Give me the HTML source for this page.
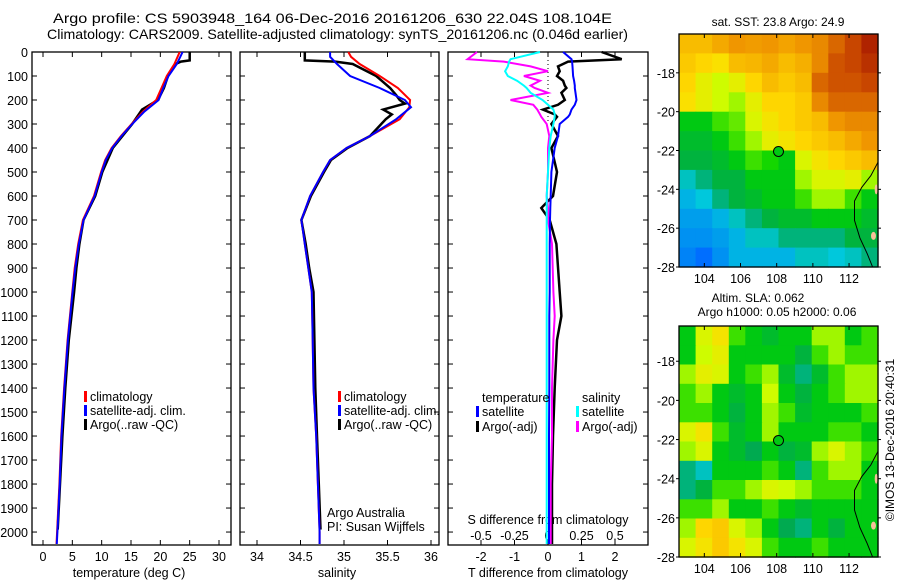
<!DOCTYPE html>
<html><head><meta charset="utf-8">
<style>
body{margin:0;background:#fff;}
svg{display:block;font-family:"Liberation Sans",sans-serif;}
</style></head>
<body>
<svg id="fig" width="900" height="580" viewBox="0 0 900 580"></svg>
<script>
// ---------------- data ----------------
const depthT = [0,50,100,150,200,250,300,350,400,450,500,600,700,800,900,1000,1200,1400,1600,1800,2000,2050];
const tempClim = [23.3,22.4,21.1,20.2,19.3,17.0,15.1,13.3,11.7,10.6,9.9,8.7,6.8,6.0,5.4,5.0,4.2,3.6,3.1,2.8,2.4,2.3];
const tempSat  = [23.8,22.8,21.4,20.5,19.7,17.2,15.2,13.4,11.8,10.7,10.0,8.8,6.9,6.1,5.5,5.05,4.25,3.65,3.15,2.85,2.45,2.35];
const depthArgoT = [0,35,40,50,100,150,200,240,300,400,500,600,700,800,900,1000,1200,1400,1600,1800,1990];
const tempArgo = [25.0,25.0,23.5,22.6,21.3,20.6,19.6,16.9,15.2,11.9,10.1,8.9,6.9,6.2,5.7,5.3,4.4,3.8,3.3,2.9,2.5];

const depthS = [0,20,50,100,150,200,230,280,350,400,450,500,600,700,800,900,1000,1200,1400,1600,1800,2000,2050];
const salClim = [35.05,35.08,35.18,35.41,35.62,35.76,35.75,35.64,35.3,35.03,34.84,34.76,34.61,34.51,34.55,34.59,34.63,34.64,34.65,34.68,34.70,34.72,34.72];
const salSat  = [34.84,34.84,34.92,35.07,35.41,35.70,35.77,35.60,35.3,35.03,34.84,34.76,34.61,34.51,34.55,34.59,34.63,34.64,34.65,34.68,34.70,34.72,34.72];
const depthArgoS = [0,35,40,50,100,150,180,200,215,240,260,280,350,400,450,500,600,700,800,900,1000,1200,1400,1600,1800,1990];
const salArgo = [34.55,34.55,34.9,35.1,35.37,35.53,35.6,35.64,35.7,35.45,35.55,35.48,35.3,35.04,34.85,34.77,34.62,34.51,34.56,34.6,34.65,34.66,34.67,34.69,34.71,34.73];

const depthD = [0,30,40,60,80,100,120,140,150,170,200,220,240,260,270,300,350,400,500,600,650,700,800,1000,1100,1200,1400,1600,1800,2000,2050];
const tDiffArgo = [1.6,2.2,0.6,0.3,0.35,0.27,0.45,0.5,0.55,0.4,0.5,0.3,-0.15,0.2,0.27,0.1,0.3,0.1,0.27,0.15,-0.2,0.05,0.25,0.35,0.4,0.27,0.2,0.15,0.12,0.12,0.12];
const tDiffSat  = [0.45,0.7,0.72,0.73,0.74,0.75,0.78,0.8,0.8,0.82,0.85,0.8,0.7,0.65,0.6,0.35,0.3,0.2,0.1,0.08,0.07,0.06,0.05,0.05,0.04,0.04,0.04,0.03,0.03,0.03,0.03];
const sDiffSat  = [-0.06,-0.28,-0.29,-0.3,-0.32,-0.3,-0.23,-0.18,-0.16,-0.13,-0.04,0.0,0.04,0.05,0.05,0.04,0.02,0.01,0.0,-0.01,-0.01,-0.01,-0.01,-0.01,-0.01,-0.01,-0.01,-0.01,-0.01,-0.01,-0.01];
const sDiffArgo = [-0.53,-0.6,-0.33,-0.13,0.0,-0.18,-0.06,-0.13,-0.1,0.0,-0.28,-0.11,-0.08,-0.06,-0.05,-0.01,0.01,0.0,0.0,-0.01,0.0,0.0,0.03,0.04,0.05,0.04,0.03,0.03,0.02,0.02,0.02];

const depthTicks = [0,100,200,300,400,500,600,700,800,900,1000,1100,1200,1300,1400,1500,1600,1700,1800,1900,2000];
const tempTicks = [0,5,10,15,20,25,30];
const salTicks = [34,34.5,35,35.5,36];
const tDiffTicks = [-2,-1,0,1,2];
const sDiffTicks = ["-0.5","-0.25","0","0.25","0.5"];
const lonTicks = [104,106,108,110,112];
const latTicks = [-18,-20,-22,-24,-26,-28];

const sstGrid = [
[0.72,0.72,0.75,0.78,0.77,0.78,0.76,0.78,0.80,0.85,0.90,0.95],
[0.70,0.68,0.66,0.72,0.73,0.75,0.72,0.74,0.80,0.88,0.90,0.93],
[0.68,0.62,0.58,0.62,0.68,0.72,0.70,0.72,0.85,0.88,0.88,0.90],
[0.66,0.62,0.58,0.55,0.62,0.68,0.68,0.70,0.80,0.85,0.85,0.85],
[0.45,0.45,0.50,0.52,0.60,0.65,0.68,0.70,0.72,0.78,0.80,0.80],
[0.42,0.42,0.45,0.50,0.55,0.62,0.65,0.68,0.70,0.72,0.75,0.78],
[0.40,0.40,0.42,0.45,0.50,0.48,0.45,0.60,0.65,0.68,0.70,0.72],
[0.30,0.35,0.40,0.40,0.45,0.45,0.45,0.55,0.60,0.60,0.62,0.55],
[0.25,0.28,0.35,0.40,0.42,0.45,0.45,0.50,0.55,0.55,0.50,0.45],
[0.22,0.22,0.25,0.30,0.35,0.40,0.42,0.42,0.45,0.45,0.45,0.42],
[0.20,0.20,0.22,0.25,0.30,0.30,0.35,0.35,0.35,0.35,0.40,0.40],
[0.18,0.15,0.20,0.25,0.25,0.25,0.25,0.30,0.30,0.28,0.30,0.35]];
const slaGrid = [
[0.45,0.60,0.65,0.50,0.45,0.42,0.45,0.45,0.55,0.55,0.45,0.50],
[0.45,0.58,0.62,0.45,0.45,0.45,0.45,0.40,0.50,0.55,0.50,0.50],
[0.55,0.62,0.60,0.45,0.50,0.55,0.42,0.35,0.42,0.50,0.55,0.55],
[0.50,0.55,0.45,0.42,0.45,0.58,0.45,0.40,0.45,0.50,0.55,0.55],
[0.50,0.50,0.45,0.40,0.45,0.55,0.50,0.42,0.45,0.45,0.45,0.50],
[0.60,0.65,0.50,0.42,0.45,0.55,0.45,0.45,0.45,0.50,0.50,0.45],
[0.55,0.60,0.45,0.42,0.38,0.45,0.40,0.42,0.55,0.60,0.55,0.50],
[0.35,0.30,0.45,0.45,0.45,0.50,0.45,0.35,0.50,0.55,0.55,0.45],
[0.35,0.40,0.50,0.50,0.55,0.60,0.58,0.55,0.50,0.50,0.50,0.45],
[0.50,0.50,0.55,0.45,0.45,0.50,0.45,0.42,0.45,0.45,0.45,0.45],
[0.55,0.68,0.70,0.60,0.55,0.45,0.38,0.35,0.45,0.40,0.45,0.45],
[0.60,0.65,0.70,0.65,0.60,0.50,0.45,0.45,0.50,0.45,0.45,0.45]];
const argoLon = 108.1, argoLat = -22.05;
const coastLon = [113.6,113.2,112.7,112.3,112.3,112.6,113.0,113.3];
const coastLat = [-22.6,-23.3,-23.9,-24.6,-25.6,-26.5,-27.3,-28.0];

// ---------------- helpers ----------------
const NS = "http://www.w3.org/2000/svg";
const svg = document.getElementById('fig');
function mk(tag, attrs, parent, text){
  const e = document.createElementNS(NS, tag);
  for (const k in attrs) e.setAttribute(k, attrs[k]);
  if (text !== undefined) e.textContent = text;
  (parent || svg).appendChild(e);
  return e;
}
const PT = 52, PB = 545, DMAX = 2054;
const yD = d => PT + d * (PB - PT) / DMAX;
function xLin(v0, px0, v1, px1){ return v => px0 + (v - v0) * (px1 - px0) / (v1 - v0); }

function frame(x0, x1, name){
  const r = mk('rect', {x:x0, y:PT, width:x1-x0, height:PB-PT, fill:'none', stroke:'#000', 'stroke-width':1.3});
  
  
  depthTicks.forEach(d => {
    mk('line', {x1:x0, x2:x0+5, y1:yD(d), y2:yD(d), stroke:'#000'});
    mk('line', {x1:x1-5, x2:x1, y1:yD(d), y2:yD(d), stroke:'#000'});
  });
}
function line(xs, ds, fx, color, w, name){
  const pts = xs.map((v,i) => fx(v).toFixed(1) + ',' + yD(ds[i]).toFixed(1)).join(' ');
  const p = mk('polyline', {points:pts, fill:'none', stroke:color, 'stroke-width':w});
  
  
}
function txt(x, y, s, opts, name){
  const t = mk('text', Object.assign({x:x, y:y, 'font-size':12.5, fill:'#000'}, opts||{}), svg, s);
  
  
  return t;
}
function legendItem(x, y, color, label, name){
  mk('rect', {x:x-6, y:y-10, width:3, height:11, fill:color});
  txt(x, y, label, {}, name);
}

// ---------------- titles ----------------
txt(53, 23, "Argo profile: CS 5903948_164 06-Dec-2016 20161206_630 22.04S 108.104E", {'font-size':14,'textLength':559,'lengthAdjust':'spacingAndGlyphs'}, 'title-line-1');
txt(47, 39, "Climatology: CARS2009. Satellite-adjusted climatology: synTS_20161206.nc (0.046d earlier)", {'font-size':14,'textLength':581,'lengthAdjust':'spacingAndGlyphs'}, 'title-line-2');

depthTicks.forEach(d => {
  txt(28, yD(d)+5, String(d), {'text-anchor':'end'}, 'depth-tick-label');
});

// ---------------- panel 1: temperature ----------------
const xT = xLin(0, 43, 30, 219);
frame(32, 231, 'temperature-panel');
tempTicks.forEach(v => {
  mk('line', {x1:xT(v), x2:xT(v), y1:PT, y2:PT+5, stroke:'#000'});
  mk('line', {x1:xT(v), x2:xT(v), y1:PB-5, y2:PB, stroke:'#000'});
  txt(xT(v), 561, String(v), {'text-anchor':'middle'}, 'temperature-tick-label');
});
txt(129, 577, "temperature (deg C)", {'text-anchor':'middle'}, 'temperature-axis-title');
line(tempArgo, depthArgoT, xT, '#000', 2.5, 'temperature-argo-line');
line(tempClim, depthT, xT, '#f00', 2, 'temperature-climatology-line');
line(tempSat, depthT, xT, '#00f', 2, 'temperature-satellite-line');
legendItem(90, 401, '#f00', 'climatology', 'legend-climatology');
legendItem(90, 415, '#00f', 'satellite-adj. clim.', 'legend-satellite-adj');
legendItem(90, 429, '#000', 'Argo(..raw -QC)', 'legend-argo-raw');

// ---------------- panel 2: salinity ----------------
const xS = xLin(34, 257, 36, 431);
frame(240, 439, 'salinity-panel');
salTicks.forEach(v => {
  mk('line', {x1:xS(v), x2:xS(v), y1:PT, y2:PT+5, stroke:'#000'});
  mk('line', {x1:xS(v), x2:xS(v), y1:PB-5, y2:PB, stroke:'#000'});
  txt(xS(v), 561, String(v), {'text-anchor':'middle'}, 'salinity-tick-label');
});
txt(337, 577, "salinity", {'text-anchor':'middle'}, 'salinity-axis-title');
line(salArgo, depthArgoS, xS, '#000', 2.5, 'salinity-argo-line');
line(salClim, depthS, xS, '#f00', 2, 'salinity-climatology-line');
line(salSat, depthS, xS, '#00f', 2, 'salinity-satellite-line');
legendItem(344, 401, '#f00', 'climatology', 'legend-climatology-2');
legendItem(344, 415, '#00f', 'satellite-adj. clim.', 'legend-satellite-adj-2');
legendItem(344, 429, '#000', 'Argo(..raw -QC)', 'legend-argo-raw-2');
txt(327, 517, "Argo Australia", {}, 'argo-australia-label');
txt(327, 531, "PI: Susan Wijffels", {}, 'pi-label');

// ---------------- panel 3: differences ----------------
const xTd = xLin(0, 548, 2, 615);
const xSd = xLin(0, 548, 0.5, 615);
frame(448, 648, 'difference-panel');
mk('line', {x1:548, x2:548, y1:PT, y2:yD(300), stroke:'#000', 'stroke-dasharray':'1,3'});
tDiffTicks.forEach(v => {
  mk('line', {x1:xTd(v), x2:xTd(v), y1:PT, y2:PT+5, stroke:'#000'});
  mk('line', {x1:xTd(v), x2:xTd(v), y1:PB-5, y2:PB, stroke:'#000'});
  txt(xTd(v), 561, String(v), {'text-anchor':'middle'}, 'tdiff-tick-label');
});
sDiffTicks.forEach(v => {
  txt(xSd(parseFloat(v)), 540, v, {'text-anchor':'middle'}, 'sdiff-tick-label');
});
txt(548, 524, "S difference from climatology", {'text-anchor':'middle'}, 'sdiff-axis-title');
txt(548, 577, "T difference from climatology", {'text-anchor':'middle'}, 'tdiff-axis-title');
line(tDiffArgo, depthD, xTd, '#000', 2.5, 'tdiff-argo-line');
line(sDiffArgo, depthD, xSd, '#f0f', 2, 'sdiff-argo-line');
line(tDiffSat, depthD, xTd, '#00f', 2, 'tdiff-satellite-line');
line(sDiffSat, depthD, xSd, '#0ff', 2, 'sdiff-satellite-line');
txt(482, 402, "temperature", {}, 'legend-temperature-heading');
legendItem(482, 416, '#00f', 'satellite', 'legend-t-satellite');
legendItem(482, 431, '#000', 'Argo(-adj)', 'legend-t-argo');
txt(582, 402, "salinity", {}, 'legend-salinity-heading');
legendItem(582, 416, '#0ff', 'satellite', 'legend-s-satellite');
legendItem(582, 431, '#f0f', 'Argo(-adj)', 'legend-s-argo');

// ---------------- maps ----------------
function cmap(v){
  const stops = [[0.0,[0,0,200]],[0.15,[0,110,255]],[0.28,[0,200,220]],[0.38,[0,170,80]],[0.47,[0,210,0]],[0.57,[200,255,0]],[0.67,[255,220,0]],[0.78,[240,150,0]],[0.9,[200,70,0]],[1.0,[150,0,0]]];
  for (let i=1;i<stops.length;i++){
    if (v <= stops[i][0]){
      const a=stops[i-1], b=stops[i], f=(v-a[0])/(b[0]-a[0]);
      const c=a[1].map((x,k)=>Math.round(x+(b[1][k]-x)*f));
      return 'rgb('+c.join(',')+')';
    }
  }
  return 'rgb(150,0,0)';
}
function drawMap(grid, x0, x1, y0, y1, latTop, latBot, name){
  const fx = xLin(102.6, x0, 113.6, x1);
  const fy = xLin(latTop, y0, latBot, y1);
  const g = mk('g', {});
  
  
  const rows = grid.length, cols = grid[0].length;
  const cw = (x1-x0)/cols, ch = (y1-y0)/rows;
  grid.forEach((row, r) => row.forEach((v, c) => {
    const cell = mk('rect', {x:(x0+c*cw).toFixed(1), y:(y0+r*ch).toFixed(1), width:(cw+0.6).toFixed(1), height:(ch+0.6).toFixed(1), fill:cmap(v)}, g);
    
    
  }));
  const pts = coastLon.map((lo,i)=>fx(lo).toFixed(1)+','+fy(coastLat[i]).toFixed(1)).join(' ');
  mk('polyline', {points:pts, fill:'none', stroke:'#000', 'stroke-width':1}, g);
  mk('ellipse', {cx:fx(113.5), cy:fy(-24.0), rx:1.5, ry:5, fill:'#f5c09a'}, g);
  mk('ellipse', {cx:fx(113.35), cy:fy(-26.4), rx:2.5, ry:4, fill:'#f5c09a'}, g);
  const dot = mk('circle', {cx:fx(argoLon), cy:fy(argoLat), r:5, fill:cmap(grid[Math.floor((latTop-argoLat)/(latTop-latBot)*rows)][Math.floor((argoLon-102.6)/11*cols)]), stroke:'#000', 'stroke-width':1});
  
  
  mk('rect', {x:x0, y:y0, width:x1-x0, height:y1-y0, fill:'none', stroke:'#000', 'stroke-width':1.3});
  lonTicks.forEach(v => {
    mk('line', {x1:fx(v), x2:fx(v), y1:y0, y2:y0+4, stroke:'#000'});
    mk('line', {x1:fx(v), x2:fx(v), y1:y1-4, y2:y1, stroke:'#000'});
    txt(fx(v), y1+16, String(v), {'text-anchor':'middle'}, name + '-lon-label');
  });
  latTicks.forEach(v => {
    mk('line', {x1:x0-3, x2:x0, y1:fy(v), y2:fy(v), stroke:'#000'});
    mk('line', {x1:x1, x2:x1+3, y1:fy(v), y2:fy(v), stroke:'#000'});
    txt(x0-4, fy(v)+5, String(v), {'text-anchor':'end'}, name + '-lat-label');
  });
}
drawMap(sstGrid, 679, 878, 34, 267, -16.0, -28.0, 'sst-map');
txt(778, 26, "sat. SST: 23.8 Argo: 24.9", {'text-anchor':'middle','font-size':12}, 'sst-map-title');
drawMap(slaGrid, 679, 878, 326, 557, -16.2, -28.0, 'sla-map');
txt(758, 302, "Altim. SLA: 0.062", {'text-anchor':'middle','font-size':12}, 'sla-map-title');
txt(777, 316, "Argo h1000: 0.05 h2000: 0.06", {'text-anchor':'middle','font-size':12}, 'sla-map-subtitle');
txt(0, 0, "©IMOS 13-Dec-2016 20:40:31", {'text-anchor':'middle','font-size':12,'transform':'translate(894,440) rotate(-90)'}, 'imos-timestamp');
</script>
</body></html>
